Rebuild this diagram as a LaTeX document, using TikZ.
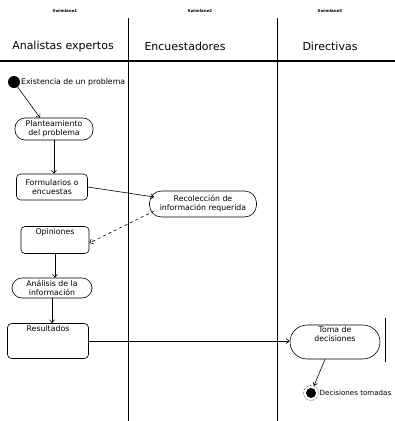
\documentclass[tikz,border=0pt]{standalone}
\usepackage{fontspec}
\setmainfont{DejaVu Sans}
\usetikzlibrary{arrows.meta, positioning}

\begin{document}
\begin{tikzpicture}[
        x=1pt, y=-1pt,
        >={Straight Barb[length=3pt, width=5pt]},
        font=\fontsize{7.8}{9}\selectfont,
        flow/.style={->, line width=0.6pt},
        lane/.style={line width=0.8pt},
        stadium/.style={draw, line width=0.6pt, rectangle, rounded corners=10pt, align=center, inner sep=2pt},
        actbox/.style={draw, line width=0.6pt, rectangle, rounded corners=4pt, align=center, inner sep=2pt},
        lanetag/.style={font=\fontsize{4}{4}\selectfont\bfseries},
        lanetitle/.style={font=\fontsize{11}{12}\selectfont},
    ]
    \useasboundingbox (0,0) rectangle (395,421);

    % Lanes
    \node[lanetag] (tag1) at (65,11) {Swimlane1};
    \node[lanetag] (tag2) at (200,11) {Swimlane2};
    \node[lanetag] (tag3) at (330,11) {Swimlane3};
    \node[lanetitle] (analistas) at (63,46) {Analistas expertos};
    \node[lanetitle] (encuestadores) at (185,46) {Encuestadores};
    \node[lanetitle] (directivas) at (330,46) {Directivas};
    \draw[lane] (128,18) -- (128,421);
    \draw[lane] (277,18) -- (277,421);
    \draw[line width=1.8pt] (0,61) -- (395,61);
    \draw[lane] (385,318) -- (385,362);

    % Nodes
    \node[circle, fill=black, minimum size=12pt, inner sep=0pt] (inicio) at (14,82) {};
    \node[anchor=west, inner sep=1pt] (existencia) at (20,82) {Existencia de un problema};
    \node[stadium, minimum width=78pt, minimum height=22pt] (plan) at (54,129) {Planteamiento\\del problema};
    \node[actbox, minimum width=71pt, minimum height=26pt] (form) at (52,187) {Formularios o\\encuestas};
    \node[stadium, minimum width=107pt, minimum height=26pt, rounded corners=12pt] (recol) at (203,204) {Recolección de\\información requerida};
    \node[actbox, minimum width=68pt, text height=6pt, text depth=17pt] (opin) at (55,240) {Opiniones};
    \node[stadium, minimum width=80pt, minimum height=20pt] (anal) at (52,288) {Análisis de la\\información};
    \node[actbox, minimum width=81pt, text height=6pt, text depth=25pt] (result) at (48,341) {Resultados};
    \node[stadium, minimum width=90pt, rounded corners=17pt, text depth=15pt] (toma) at (335,342) {Toma de\\decisiones};
    \node[circle, draw, densely dotted, line width=0.5pt, minimum size=15pt, inner sep=0pt] (fin) at (311,393) {};
    \node[circle, fill=black, minimum size=10pt, inner sep=0pt] (finpunto) at (fin) {};
    \node[anchor=west, inner sep=0.5pt, font=\fontsize{7.1}{8}\selectfont] (decisiones) at (319,393) {Decisiones tomadas};

    % Edges
    \draw[flow] (inicio) -- ([xshift=-14pt]plan.north);
    \draw[flow] (plan.south) -- (plan.south |- form.north);
    \draw[flow] (form.east) -- ([xshift=5pt, yshift=7pt]recol.west);
    \draw[flow, dashed] ([xshift=5pt, yshift=-7pt]recol.west) -- ([yshift=-3pt]opin.east);
    \draw[flow] (opin.south) -- (opin.south |- anal.north);
    \draw[flow] (anal.south) -- (anal.south |- result.north);
    \draw[flow] (result.east) -- (result.east -| toma.west);
    \draw[flow] ([xshift=-10pt]toma.south) -- (fin);

\end{tikzpicture}
\end{document}
